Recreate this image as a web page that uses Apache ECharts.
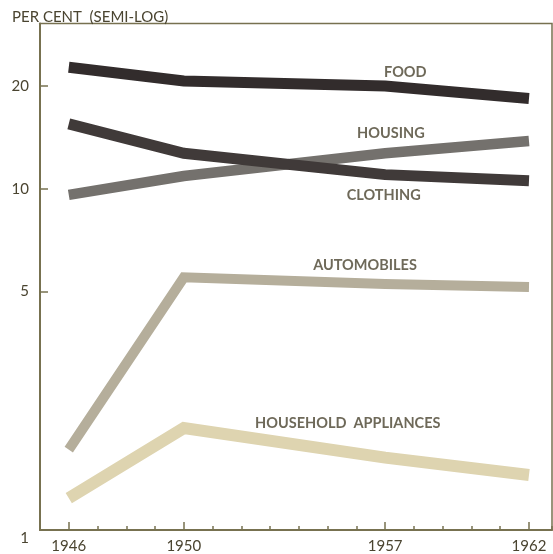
<!DOCTYPE html>
<html>
<head>
<meta charset="utf-8">
<script src="https://cdn.jsdelivr.net/npm/echarts@6/dist/echarts.min.js"></script>
<style>
html,body{margin:0;padding:0;background:#fff;}
#c{width:553px;height:554px;}
</style>
</head>
<body>
<div id="c"></div>
<script>
// ---- data ----
var years = [1946, 1950, 1957, 1962];
var food = [22.7, 20.7, 20.0, 18.4];
var housing = [9.6, 10.9, 12.7, 13.8];
var clothing = [15.5, 12.7, 11.0, 10.55];
var automobiles = [1.72, 5.5, 5.26, 5.15];
var appliances = [1.24, 1.99, 1.63, 1.45];
var yTickValues = [1, 5, 10, 20];
var xLabelYears = [1946, 1950, 1957, 1962];
var seriesNames = ['FOOD', 'HOUSING', 'CLOTHING', 'AUTOMOBILES', 'HOUSEHOLD  APPLIANCES'];
// label anchors in data units (year, per cent)
var labelYears = [1957.7, 1957.2, 1956.95, 1956.3, 1955.7];
var labelValues = [22.0, 14.5, 9.55, 5.95, 2.05];

var axisColor = '#777150';
var textColor = '#4a4430';
var font = 'Lato, "Noto Sans", sans-serif';

function pairs(vals) { return years.map(function (y, i) { return [y, vals[i]]; }); }
function lineSeries(name, vals, color, width, z) {
  return {
    name: name, type: 'line', data: pairs(vals), showSymbol: false, symbol: 'none',
    smooth: false, z: z, silent: true,
    lineStyle: { color: color, width: width, cap: 'butt', join: 'miter' }
  };
}

var chart = echarts.init(document.getElementById('c'), null, { renderer: 'canvas' });
chart.setOption({
  animation: false,
  backgroundColor: '#ffffff',
  title: {
    text: 'PER CENT  (SEMI-LOG)', left: 7, top: 5,
    textStyle: { fontFamily: font, fontSize: 15, fontWeight: 'normal', color: textColor }
  },
  grid: { left: 40, right: 1, top: 23.5, bottom: 17, show: true, borderColor: axisColor, borderWidth: 1.5, containLabel: false },
  xAxis: [{
    type: 'value', min: 1945, max: 1962.8, interval: 1,
    axisLine: { show: true, lineStyle: { color: axisColor, width: 2 } },
    axisTick: { show: true, inside: true, length: 4, lineStyle: { color: axisColor, width: 1.5 } },
    axisLabel: { show: false },
    splitLine: { show: false }
  }, {
    type: 'value', min: 1945, max: 1962.8, position: 'bottom',
    axisLine: { show: false },
    axisTick: { show: true, inside: true, length: 8, customValues: xLabelYears, lineStyle: { color: axisColor, width: 1.5 } },
    axisLabel: { customValues: xLabelYears, margin: 9, fontFamily: font, fontSize: 15, color: textColor, formatter: function (v) { return String(v); } },
    splitLine: { show: false }
  }],
  yAxis: {
    type: 'log', logBase: 10, min: 1, max: 30.5,
    axisLine: { show: true, lineStyle: { color: axisColor, width: 2 } },
    axisTick: { show: true, inside: true, length: 8, customValues: yTickValues, lineStyle: { color: axisColor, width: 1.5 } },
    axisLabel: {
      customValues: yTickValues, margin: 11, fontFamily: font, fontSize: 15, color: textColor,
      formatter: function (v) { var r = Math.round(v); return r === 1 ? '{one|1}' : String(r); },
      rich: { one: { fontFamily: font, fontSize: 15, color: textColor, padding: [16, 0, 0, 0] } }
    },
    splitLine: { show: false }
  },
  series: [
    lineSeries('FOOD', food, '#322c2c', 11, 5),
    lineSeries('HOUSING', housing, '#74716d', 10.5, 3),
    lineSeries('CLOTHING', clothing, '#403a39', 11, 4),
    lineSeries('AUTOMOBILES', automobiles, '#b5ae9b', 10, 2),
    lineSeries('HOUSEHOLD APPLIANCES', appliances, '#ded4b0', 12, 1),
    {
      type: 'scatter', symbolSize: 0, silent: true, z: 10,
      data: seriesNames.map(function (n, i) { return { value: [labelYears[i], labelValues[i]], name: n }; }),
      label: {
        show: true, position: 'inside', formatter: function (p) { return p.name; },
        fontFamily: font, fontSize: 14.5, fontWeight: 'bold', color: textColor
      }
    }
  ]
});
</script>
</body>
</html>
